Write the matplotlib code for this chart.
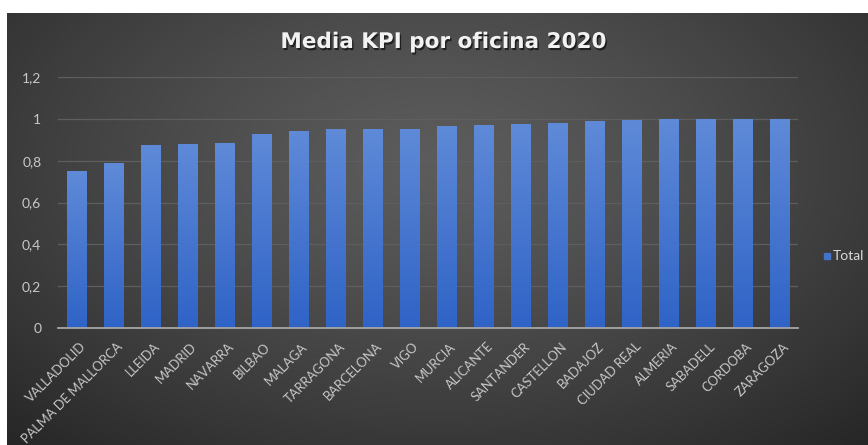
import numpy as np
import matplotlib
matplotlib.use("Agg")
import matplotlib.pyplot as plt
import matplotlib.transforms as mtransforms
import matplotlib.patheffects as pe
from matplotlib.patches import Rectangle

# ---- data ----
categories = ["VALLADOLID", "PALMA DE MALLORCA", "LLEIDA", "MADRID", "NAVARRA", "BILBAO",
              "MALAGA", "TARRAGONA", "BARCELONA", "VIGO", "MURCIA", "ALICANTE", "SANTANDER",
              "CASTELLON", "BADAJOZ", "CIUDAD REAL", "ALMERIA", "SABADELL", "CORDOBA", "ZARAGOZA"]
values = [0.749, 0.789, 0.877, 0.882, 0.885, 0.930, 0.944, 0.951, 0.953, 0.953,
          0.969, 0.970, 0.977, 0.982, 0.989, 0.993, 1.0, 1.0, 1.0, 1.0]
yticks = [0, 0.2, 0.4, 0.6, 0.8, 1.0, 1.2]
ytick_labels = ["0", "0,2", "0,4", "0,6", "0,8", "1", "1,2"]
title = "Media KPI por oficina 2020"
series_name = "Total"

W, H = 868, 445
fig = plt.figure(figsize=(W / 100, H / 100), dpi=100)
fig.patch.set_facecolor("white")

# background panel with radial gradient
x0, y0 = 7, 13
bg = fig.add_axes([x0 / W, 0, 1 - x0 / W, 1 - y0 / H])
bg.set_axis_off()
gx, gy = np.meshgrid(np.linspace(0, 1, 400), np.linspace(0, 1, 200))
cx, cy = 0.50, 0.35
d = np.sqrt(((gx - cx) / 0.75) ** 2 + ((gy - cy) / 0.9) ** 2)
d = np.clip(d, 0, 1)
light, dark = 0.36, 0.145
g = light + (dark - light) * d ** 1.3
img = np.dstack([g, g, g])
bg.imshow(img, aspect="auto", extent=[0, 1, 0, 1], origin="upper")
bg.set_xlim(0, 1)
bg.set_ylim(0, 1)

# main axes
left, right = 58 / W, 798 / W
bottom = 1 - 327.7 / H
top = 1 - 77.3 / H
ax = fig.add_axes([left, bottom, right - left, top - bottom])
ax.patch.set_alpha(0)
x = np.arange(len(categories))
bars = ax.bar(x, values, width=0.52, color="#4472c4", zorder=3)

# gradient fill on bars
grad = np.linspace(0, 1, 256).reshape(-1, 1)
top_c = np.array([0x5f, 0x8a, 0xd8]) / 255
bot_c = np.array([0x2f, 0x63, 0xc6]) / 255
grad_img = top_c[None, None, :] * (1 - grad[:, :, None]) + bot_c[None, None, :] * grad[:, :, None]
for b in bars:
    bx, bw, bh = b.get_x(), b.get_width(), b.get_height()
    im = ax.imshow(grad_img, extent=[bx, bx + bw, 0, bh], aspect="auto",
                   origin="upper", zorder=4)
    im.set_clip_path(b)
ax.set_xlim(-0.5, len(categories) - 0.5)
ax.set_ylim(0, 1.2)

for s in ["top", "right", "left"]:
    ax.spines[s].set_visible(False)
ax.spines["bottom"].set_color("#a6a6a6")
ax.spines["bottom"].set_linewidth(1.3)
ax.spines["bottom"].set_zorder(5)

ax.set_yticks(yticks)
ax.set_yticklabels(ytick_labels)
ax.yaxis.grid(True, color="#5e5e5e", linewidth=0.9, zorder=1)
ax.set_axisbelow(True)
ax.tick_params(axis="y", length=0, pad=12, labelcolor="#c8c8c8", labelsize=10)
ax.set_xticks(x)
ax.set_xticklabels(categories, rotation=45, ha="right", rotation_mode="anchor",
                   color="#c8c8c8", fontsize=9.3)
ax.tick_params(axis="x", length=0, pad=9)
offset = mtransforms.ScaledTranslation(3 / 100, 0, fig.dpi_scale_trans)
for lab in ax.get_xticklabels():
    lab.set_transform(lab.get_transform() + offset)
for lab in ax.get_yticklabels() + ax.get_xticklabels():
    lab.set_family("Lato")

fig.text(443 / W, 1 - 42 / H, title, ha="center", va="center", color="#f2f2f2",
         fontsize=15.5, family="DejaVu Sans", fontweight="bold",
         path_effects=[pe.withSimplePatchShadow(offset=(1, -1.5), shadow_rgbFace="black", alpha=0.6)])

# legend
fig.patches.append(Rectangle((824 / W, 1 - 259 / H), 6 / W, 6 / H,
                             transform=fig.transFigure, color="#4472c4"))
fig.text(833 / W, 1 - 256 / H, series_name, ha="left", va="center",
         color="#d9d9d9", fontsize=10, family="Lato")

fig.savefig("out.png", dpi=100, facecolor=fig.get_facecolor())
